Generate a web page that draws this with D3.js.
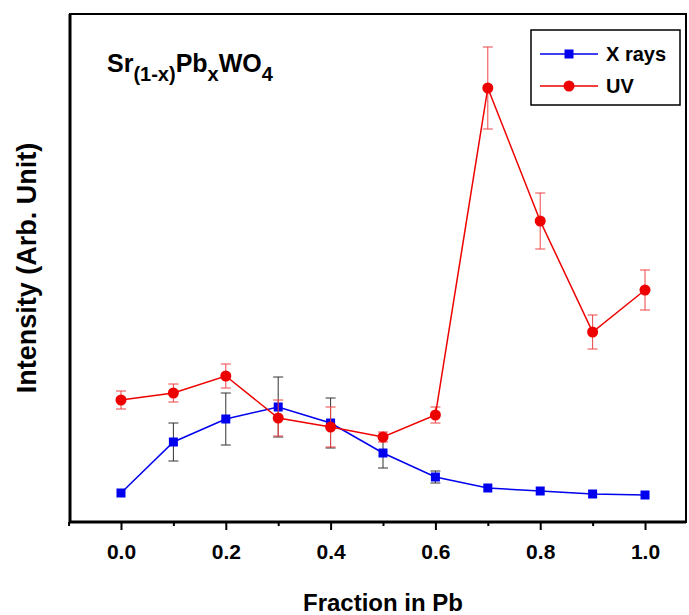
<!DOCTYPE html>
<html><head><meta charset="utf-8">
<script src="https://cdn.jsdelivr.net/npm/d3@7"></script>
<style>body{margin:0;background:#fff}text{font-family:Arial,"Liberation Sans",sans-serif;font-weight:bold}</style>
</head><body><div id="chart"></div>
<script>
var fractions = [0, 0.1, 0.2, 0.3, 0.4, 0.5, 0.6, 0.7, 0.8, 0.9, 1.0];
var xrays = [29, 80, 103, 115, 99, 69, 45, 34, 31, 28, 27];
var xraysErr = [0, 19, 26, 30, 25, 15, 6, 0, 0, 0, 0];
var uv = [122, 129, 146, 104, 95, 85, 107, 434, 301, 190, 232];
var uvErr = [9, 9, 12, 18, 20, 5, 8, 41, 28, 17, 20];
var xTicks = [0, 0.2, 0.4, 0.6, 0.8, 1.0];

var w = 689, h = 615;
var mL = 70, mR = 686, mT = 14, mB = 522;
var svg = d3.select("#chart").append("svg").attr("width", w).attr("height", h);
var x = d3.scaleLinear().domain([-0.0973, 1.0782]).range([mL, mR]);
var y = d3.scaleLinear().domain([0, 508]).range([mB, mT]);

// frame
svg.append("rect").attr("x", mL).attr("y", mT).attr("width", mR - mL).attr("height", mB - mT)
  .attr("fill", "none").attr("stroke", "#000").attr("stroke-width", 2);
svg.append("path").attr("d", "M" + mL + "," + mT + "V" + mB + "H" + mR)
  .attr("fill", "none").attr("stroke", "#000").attr("stroke-width", 3);

var ax = svg.append("g").attr("transform", "translate(0," + mB + ")")
  .call(d3.axisBottom(x).tickValues(xTicks).tickFormat(d3.format(".1f")).tickSize(8).tickPadding(14));
ax.select(".domain").remove();
ax.selectAll("line").attr("stroke-width", 2);
ax.selectAll("text").attr("font-size", 21).attr("font-family", "Arial").attr("font-weight", "bold");
svg.append("g").attr("transform", "translate(0," + mB + ")")
  .call(d3.axisBottom(x).tickValues([-0.1, 0.1, 0.3, 0.5, 0.7, 0.9]).tickFormat("").tickSize(4))
  .call(function(g){ g.select(".domain").remove(); g.selectAll("line").attr("stroke-width", 2); });

function series(vals, errs, color, errColor, shape) {
  var g = svg.append("g");
  fractions.forEach(function(d, i){
    if (errs[i] <= 0) return;
    var cx = x(d), y1 = y(vals[i] + errs[i]), y2 = y(vals[i] - errs[i]);
    g.append("path").attr("fill", "none").attr("stroke", errColor).attr("stroke-width", 1)
      .attr("d", "M" + (cx - 5) + "," + y1 + "H" + (cx + 5) + "M" + cx + "," + y1 + "V" + y2 + "M" + (cx - 5) + "," + y2 + "H" + (cx + 5));
  });
  g.append("path").datum(vals).attr("fill", "none").attr("stroke", color).attr("stroke-width", 1.5)
    .attr("d", d3.line().x(function(d, i){ return x(fractions[i]); }).y(function(d){ return y(d); }));
  vals.forEach(function(v, i){
    if (shape == "sq") g.append("rect").attr("x", x(fractions[i]) - 4.5).attr("y", y(v) - 4.5).attr("width", 9).attr("height", 9).attr("fill", color);
    else g.append("circle").attr("cx", x(fractions[i])).attr("cy", y(v)).attr("r", 5.5).attr("fill", color);
  });
}
series(xrays, xraysErr, "#0000ee", "#333", "sq");
series(uv, uvErr, "#ee0000", "#ee4444", "ci");

// legend
var lg = svg.append("g");
lg.append("rect").attr("x", 531).attr("y", 30).attr("width", 149).attr("height", 75).attr("fill", "#fff").attr("stroke", "#000").attr("stroke-width", 1.5);
[["X rays", "#0000ee", "sq", 54], ["UV", "#ee0000", "ci", 86]].forEach(function(e){
  lg.append("line").attr("x1", 540).attr("x2", 598).attr("y1", e[3]).attr("y2", e[3]).attr("stroke", e[1]).attr("stroke-width", 1.5);
  if (e[2] == "sq") lg.append("rect").attr("x", 564.5).attr("y", e[3] - 4.5).attr("width", 9).attr("height", 9).attr("fill", e[1]);
  else lg.append("circle").attr("cx", 569).attr("cy", e[3]).attr("r", 5.5).attr("fill", e[1]);
  lg.append("text").attr("x", 606).attr("y", e[3] + 7).attr("font-size", 20).text(e[0]);
});

// formula
var t = svg.append("text").attr("x", 107).attr("y", 72).attr("font-size", 25);
t.append("tspan").text("Sr");
t.append("tspan").attr("dy", 9).attr("font-size", 20).text("(1-x)");
t.append("tspan").attr("dy", -9).text("Pb");
t.append("tspan").attr("dy", 9).attr("font-size", 20).text("x");
t.append("tspan").attr("dy", -9).text("WO");
t.append("tspan").attr("dy", 9).attr("font-size", 20).text("4");

svg.append("text").attr("x", x(0.5)).attr("y", 611).attr("text-anchor", "middle").attr("font-size", 24).text("Fraction in Pb");
svg.append("text").attr("transform", "translate(36," + ((mT + mB) / 2) + ") rotate(-90)")
  .attr("text-anchor", "middle").attr("font-size", 27).text("Intensity (Arb. Unit)");
</script></body></html>
